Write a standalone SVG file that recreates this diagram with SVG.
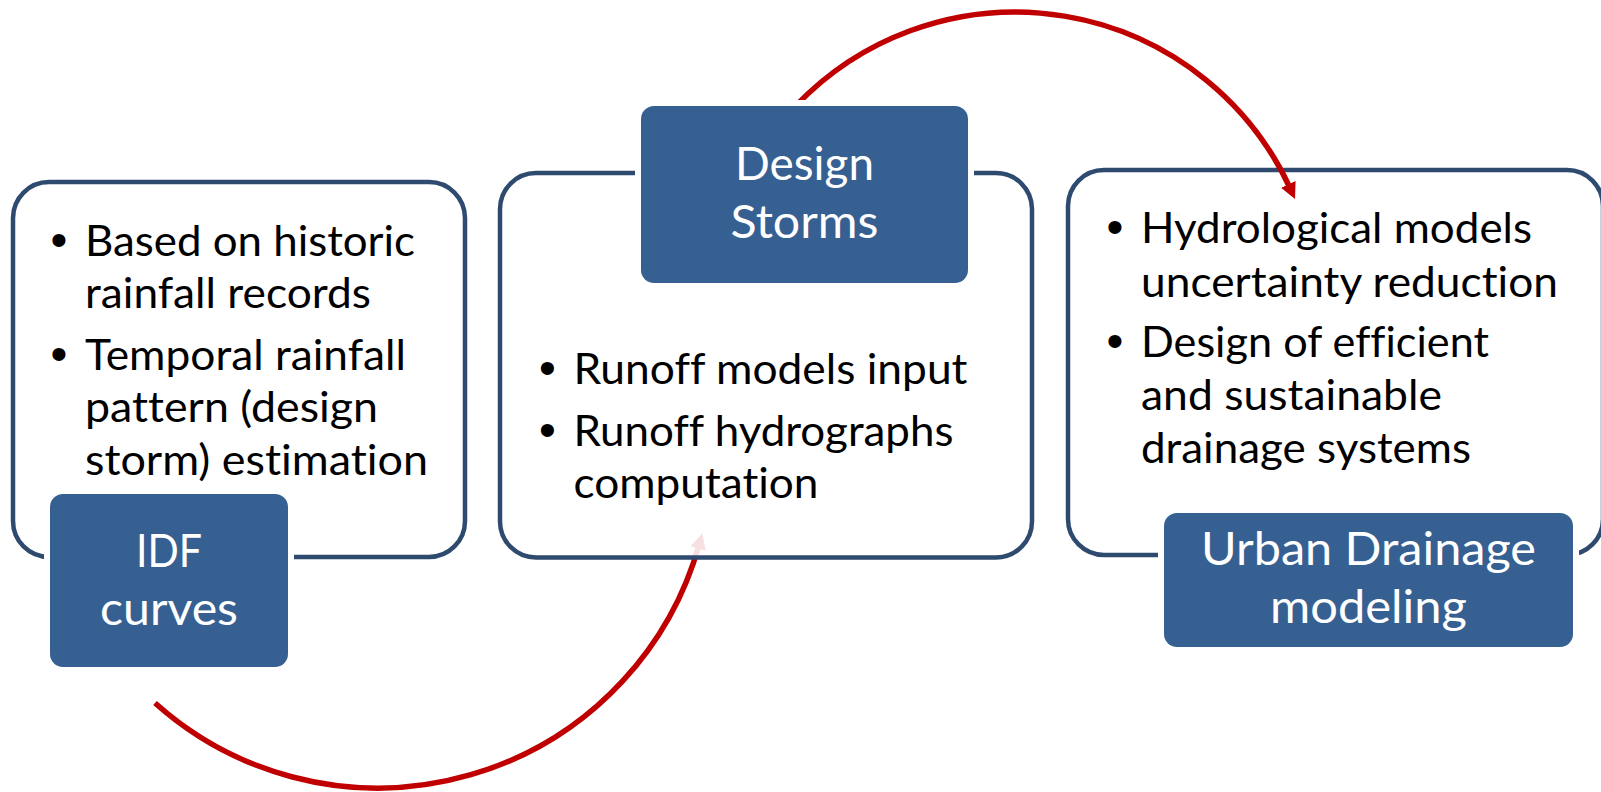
<svg xmlns="http://www.w3.org/2000/svg" width="1601" height="792" viewBox="0 0 1601 792">
  <style>
    .outline { fill: #ffffff; fill-opacity: 0.88; stroke: #2E4A6E; stroke-width: 4.5; }
    .title { fill: #376092; stroke: #ffffff; stroke-width: 12; paint-order: stroke; }
    .body { font-family: Lato, "Liberation Sans", sans-serif; font-size: 43px; fill: #000000; font-variant-ligatures: none; font-feature-settings: "liga" 0, "clig" 0; }
    .bullet { font-family: "Liberation Sans", Arial, sans-serif; font-size: 48px; fill: #000000; text-anchor: middle; }
    .ttl { font-family: Lato, "Liberation Sans", sans-serif; font-size: 46.5px; fill: #ffffff; text-anchor: middle; font-variant-ligatures: none; font-feature-settings: "liga" 0, "clig" 0; }
    .arc { fill: none; stroke: #C00000; stroke-width: 5.5; }
  </style>
  <defs>
    <marker id="arrow" markerUnits="userSpaceOnUse" markerWidth="16" markerHeight="16" viewBox="0 0 16 16" refX="4" refY="8" orient="auto">
      <path d="M0,0 L16,8 L0,16 z" fill="#C00000"/>
    </marker>
  </defs>

  <g id="idf-curves">
    <rect class="outline" x="13" y="182" width="452" height="375" rx="36"/>
    <text class="bullet" x="59" y="256">•</text>
    <text class="body" x="85" y="256" textLength="330" lengthAdjust="spacingAndGlyphs">Based on historic</text>
    <text class="body" x="85" y="308" textLength="286" lengthAdjust="spacingAndGlyphs">rainfall records</text>
    <text class="bullet" x="59" y="370">•</text>
    <text class="body" x="85" y="370" textLength="321" lengthAdjust="spacingAndGlyphs">Temporal rainfall</text>
    <text class="body" x="85" y="422" textLength="293" lengthAdjust="spacingAndGlyphs">pattern (design</text>
    <text class="body" x="85" y="475" textLength="343" lengthAdjust="spacingAndGlyphs">storm) estimation</text>
    <rect class="title" x="50" y="494" width="238" height="173" rx="13"/>
    <text class="ttl" x="169" y="567" textLength="66" lengthAdjust="spacingAndGlyphs">IDF</text>
    <text class="ttl" x="169" y="625" textLength="138" lengthAdjust="spacingAndGlyphs">curves</text>
  </g>

  <g id="urban-drainage">
    <rect class="outline" x="1068" y="170" width="535" height="385" rx="36"/>
    <text class="bullet" x="1115" y="243">•</text>
    <text class="body" x="1141" y="243" textLength="391" lengthAdjust="spacingAndGlyphs">Hydrological models</text>
    <text class="body" x="1141" y="297" textLength="417" lengthAdjust="spacingAndGlyphs">uncertainty reduction</text>
    <text class="bullet" x="1115" y="357">•</text>
    <text class="body" x="1141" y="357" textLength="348" lengthAdjust="spacingAndGlyphs">Design of efficient</text>
    <text class="body" x="1141" y="410" textLength="301" lengthAdjust="spacingAndGlyphs">and sustainable</text>
    <text class="body" x="1141" y="463" textLength="330" lengthAdjust="spacingAndGlyphs">drainage systems</text>
    <rect class="title" x="1164" y="513" width="409" height="134" rx="13"/>
    <text class="ttl" x="1368.5" y="565" textLength="335" lengthAdjust="spacingAndGlyphs">Urban Drainage</text>
    <text class="ttl" x="1368.5" y="623" textLength="197" lengthAdjust="spacingAndGlyphs">modeling</text>
  </g>

  <g id="connectors">
    <path class="arc" d="M155,703 A334,334 0 0 0 699.1,544.7" marker-end="url(#arrow)"/>
    <path class="arc" d="M795.6,106 A303,303 0 0 1 1290,188" marker-end="url(#arrow)"/>
  </g>

  <g id="design-storms">
    <rect class="outline" x="500" y="173" width="532" height="384.5" rx="36"/>
    <text class="bullet" x="547.5" y="384">•</text>
    <text class="body" x="573.5" y="384" textLength="394" lengthAdjust="spacingAndGlyphs">Runoff models input</text>
    <text class="bullet" x="547.5" y="446">•</text>
    <text class="body" x="573.5" y="446" textLength="380" lengthAdjust="spacingAndGlyphs">Runoff hydrographs</text>
    <text class="body" x="573.5" y="498" textLength="245" lengthAdjust="spacingAndGlyphs">computation</text>
    <rect class="title" x="641" y="106" width="327" height="177" rx="13"/>
    <text class="ttl" x="804.5" y="180" textLength="139" lengthAdjust="spacingAndGlyphs">Design</text>
    <text class="ttl" x="804.5" y="238" textLength="148" lengthAdjust="spacingAndGlyphs">Storms</text>
  </g>
</svg>
